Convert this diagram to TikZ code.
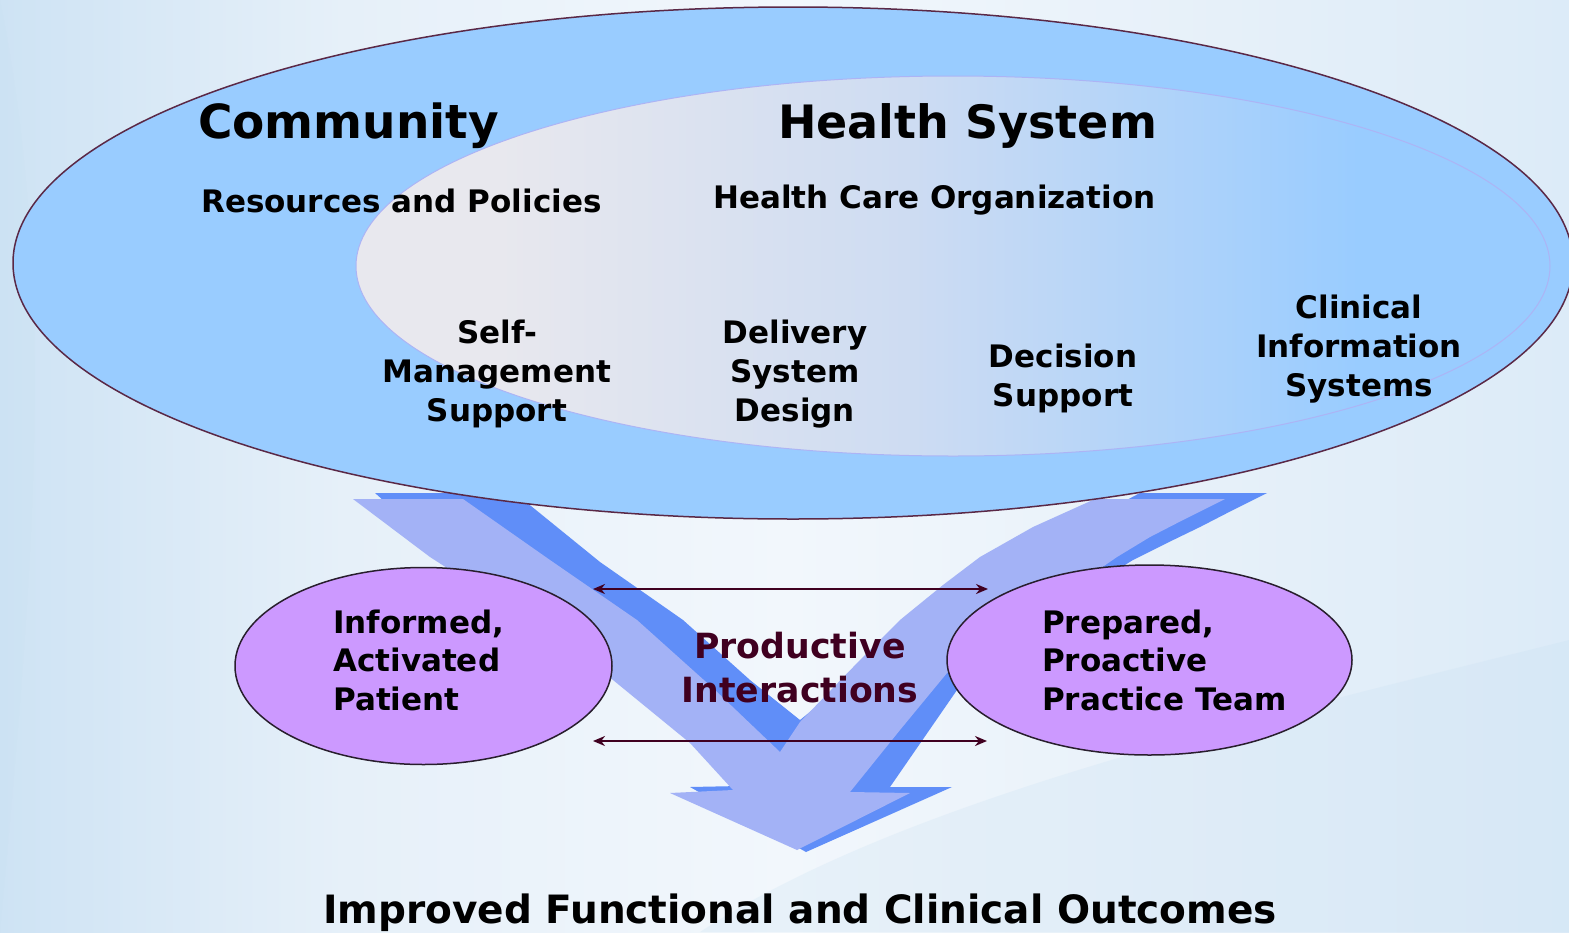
\documentclass[tikz,border=0pt]{standalone}
\usepackage{fontspec}
\setmainfont{DejaVu Sans}
\usetikzlibrary{shapes.geometric,arrows.meta}
\definecolor{bigblue}{RGB}{153,204,255}
\definecolor{ingray}{RGB}{232,232,238}
\definecolor{inmid}{RGB}{206,220,242}
\definecolor{purp}{RGB}{204,153,255}
\definecolor{vlight}{RGB}{163,178,246}
\definecolor{vdark}{RGB}{96,142,248}
\definecolor{prodcol}{RGB}{64,0,32}
\definecolor{rimcol}{RGB}{90,40,70}
\definecolor{purprim}{RGB}{40,30,45}
\definecolor{inline}{RGB}{172,180,245}
\definecolor{bgA}{RGB}{206,227,244}
\definecolor{bgB}{RGB}{230,240,249}
\definecolor{bgC}{RGB}{242,247,252}
\definecolor{bgD}{RGB}{220,235,248}
\definecolor{bgE}{RGB}{200,224,243}
\pgfdeclarehorizontalshading{innershade}{100bp}{color(0bp)=(ingray); color(31bp)=(ingray); color(48bp)=(inmid); color(67bp)=(bigblue); color(100bp)=(bigblue)}
\pgfdeclarehorizontalshading{bgshade}{100bp}{color(0bp)=(bgA); color(25bp)=(bgA); color(36bp)=(bgB); color(50bp)=(bgC); color(64bp)=(bgB); color(75bp)=(bgD); color(100bp)=(bgD)}
\begin{document}
\begin{tikzpicture}[x=1pt,y=-1pt,
  bigtitle/.style={font=\fontsize{47}{56}\selectfont\bfseries, anchor=base west, inner sep=0pt},
  subtitle/.style={font=\fontsize{31}{39}\selectfont\bfseries, anchor=base west, inner sep=0pt},
  comp/.style={font=\fontsize{31}{39}\selectfont\bfseries, anchor=base, inner sep=0pt},
  ptext/.style={font=\fontsize{31}{38.5}\selectfont\bfseries, anchor=base west, inner sep=0pt},
  pell/.style={ellipse, draw=purprim, line width=1.5pt, fill=purp, inner sep=0pt},
  darr/.style={draw=prodcol, {Stealth[length=12pt,width=10pt]}-{Stealth[length=12pt,width=10pt]}}
]
\useasboundingbox (0,0) rectangle (1569,932);
\clip (0,0) rectangle (1569,932);
% background
\shade[shading=bgshade] (0,0) rectangle (1569,932);
\fill[bgE, opacity=0.25] (700,932) .. controls (900,800) and (1250,720) .. (1569,640) -- (1569,932) -- cycle;
\fill[bgE, opacity=0.2] (0,0) .. controls (60,300) and (30,600) .. (0,932) -- cycle;
% V arrow: shadow side
\fill[vdark] (375,493) -- (515,493) -- (600,562) -- (683,620) -- (750,680) -- (800,720)
  -- (880,655) -- (940,610) -- (1000,570) -- (1070,530) -- (1140,493) -- (1267,493)
  -- (1233,510) -- (1200,527) -- (1167,543) -- (1133,560) -- (1060,605) -- (990,655)
  -- (957,690) -- (890,787) -- (952,787) -- (806,852) -- (690,787) -- (740,786)
  -- (700,745) -- (625,680) -- (535,612) -- (445,555) -- cycle;
% V arrow: front face
\fill[vlight] (353,499) -- (463,499) -- (550,560) -- (637,620) -- (715,690) -- (780,752)
  -- (800,722) -- (860,660) -- (900,620) -- (943,585) -- (980,557) -- (1033,527)
  -- (1095,499) -- (1225,499) -- (1183,520) -- (1150,537) -- (1117,557) -- (1040,610)
  -- (947,673) -- (900,730) -- (850,792) -- (910,793) -- (797,850) -- (670,793)
  -- (733,790) -- (690,743) -- (613,680) -- (520,615) -- (430,557) -- cycle;
% community ellipse
\filldraw[fill=bigblue, draw=rimcol, line width=1.5pt] (793,263) ellipse [x radius=780, y radius=256];
% health system ellipse
\shadedraw[shading=innershade, draw=inline, line width=1pt] (953,266) ellipse [x radius=597, y radius=190];
% texts in ellipse
\node[bigtitle] (community) at (198,138) {Community};
\node[bigtitle, font=\fontsize{46}{56}\selectfont\bfseries] (healthsys) at (778,138) {Health System};
\node[subtitle] (resources) at (201,212) {Resources and Policies};
\node[subtitle] (hco) at (713,208) {Health Care Organization};
\node[comp] (sms) at (497,343) {\begin{tabular}[t]{@{}c@{}}Self-\\Management\\Support\end{tabular}};
\node[comp] (dsd) at (795,343) {\begin{tabular}[t]{@{}c@{}}Delivery\\System\\Design\end{tabular}};
\node[comp] (ds) at (1063,367) {\begin{tabular}[t]{@{}c@{}}Decision\\Support\end{tabular}};
\node[comp] (cis) at (1359,318) {\begin{tabular}[t]{@{}c@{}}Clinical\\Information\\Systems\end{tabular}};
% purple ellipses
\node[pell, minimum width=377pt, minimum height=197pt] (patient) at (423.5,666) {};
\node[pell, minimum width=405pt, minimum height=190pt] (team) at (1149.5,660) {};
\node[ptext] (patienttxt) at (333,633) {\begin{tabular}[t]{@{}l@{}}Informed,\\Activated\\Patient\end{tabular}};
\node[ptext] (teamtxt) at (1042,633) {\begin{tabular}[t]{@{}l@{}}Prepared,\\Proactive\\Practice Team\end{tabular}};
% productive interactions
\coordinate (u1) at (593,589);
\coordinate (u2) at (988,589);
\coordinate (l1) at (593,741);
\coordinate (l2) at (987,741);
\draw[darr, line width=2.8pt] (u1) -- (u2);
\draw[darr, line width=2.3pt] (l1) -- (l2);
\node[font=\fontsize{34.7}{44}\selectfont\bfseries, text=prodcol, anchor=base, inner sep=0pt] (prod) at (800,658) {\begin{tabular}[t]{@{}c@{}}Productive\\Interactions\end{tabular}};
\node[font=\fontsize{39}{47}\selectfont\bfseries, anchor=base, inner sep=0pt] (outcomes) at (800,923) {Improved Functional and Clinical Outcomes};
\end{tikzpicture}
\end{document}
